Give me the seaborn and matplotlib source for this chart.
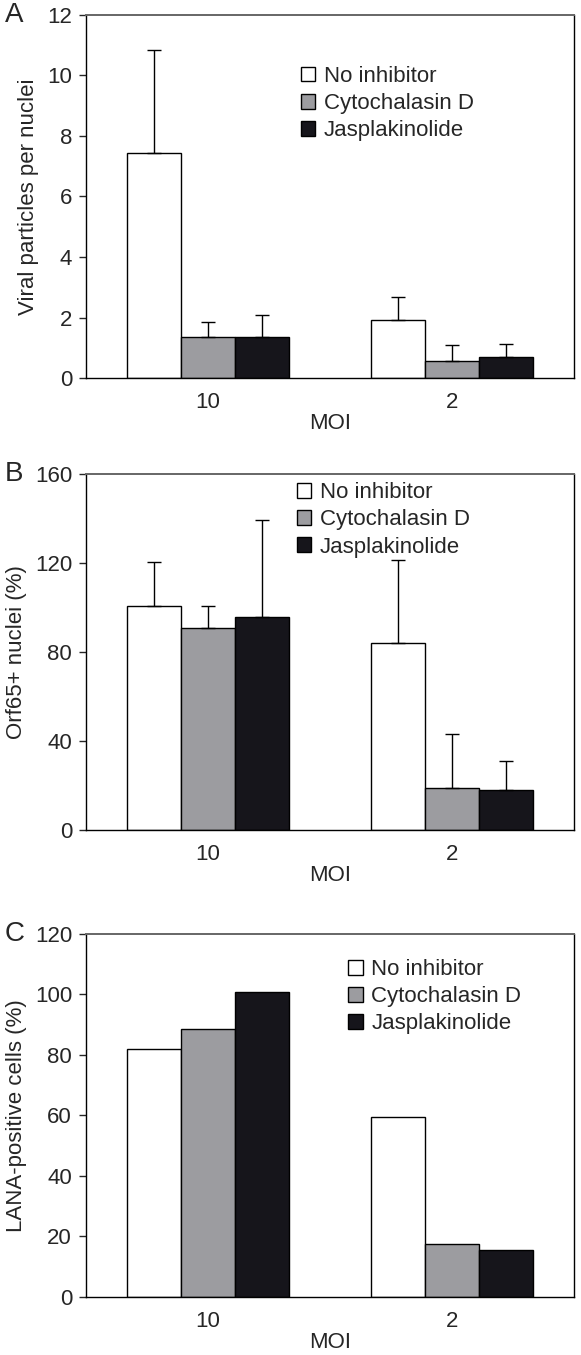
import numpy as np
import pandas as pd
import matplotlib
matplotlib.use("Agg")
import matplotlib.pyplot as plt
import seaborn as sns

# ==========================================
# DATA
# ==========================================

moi = ["10", "2"]
treatments = ["No inhibitor", "Cytochalasin D", "Jasplakinolide"]

# panel A - viral particles per nuclei (mean, upper error)
a_no_inh = [7.45, 1.92]
a_cyto = [1.35, 0.57]
a_jasp = [1.35, 0.70]
a_no_inh_err = [3.40, 0.76]
a_cyto_err = [0.50, 0.53]
a_jasp_err = [0.72, 0.44]

# panel B - Orf65+ nuclei (%)
b_no_inh = [100.8, 84.0]
b_cyto = [91.0, 18.8]
b_jasp = [96.0, 18.0]
b_no_inh_err = [19.8, 37.5]
b_cyto_err = [9.8, 24.2]
b_jasp_err = [43.4, 13.0]

# panel C - LANA-positive cells (%)
c_no_inh = [81.8, 59.3]
c_cyto = [88.5, 17.4]
c_jasp = [100.8, 15.5]

colors = ["#ffffff", "#9c9ca0", "#16151b"]

# ==========================================
# STYLE
# ==========================================

sns.set_style("ticks")
plt.rcParams["font.family"] = ["Liberation Sans", "DejaVu Sans"]
plt.rcParams["font.size"] = 16


def make_df(vals):
    rows = []
    for t, v in zip(treatments, vals):
        for m, x in zip(moi, v):
            rows.append({"MOI": m, "Treatment": t, "value": x})
    return pd.DataFrame(rows)


def draw_panel(ax, vals, errs, ylim, yticks, ylabel, legend_anchor):
    df = make_df(vals)
    sns.barplot(data=df, x="MOI", y="value", hue="Treatment",
                order=moi, hue_order=treatments, palette=colors,
                width=0.66, gap=0, errorbar=None, edgecolor="black",
                linewidth=1.0, saturation=1, ax=ax)

    if errs is not None:
        for cont, err in zip(ax.containers, errs):
            for bar, e in zip(cont, err):
                xc = bar.get_x() + bar.get_width() / 2
                h = bar.get_height()
                ax.errorbar(xc, h, yerr=[[0], [e]], fmt="none",
                            ecolor="black", elinewidth=1.0, capsize=5,
                            capthick=1.0, zorder=1)

    ax.set_xlim(-0.5, 1.5)
    ax.set_ylim(*ylim)
    ax.set_yticks(yticks)
    ax.set_ylabel(ylabel, fontsize=16, labelpad=6)
    ax.set_xlabel("MOI", fontsize=16, labelpad=0)
    ax.tick_params(axis="x", length=0, pad=10, labelsize=16)
    ax.tick_params(axis="y", length=5, width=1, direction="out",
                   pad=5, labelsize=16)
    for s in ["left", "right", "bottom"]:
        ax.spines[s].set_visible(True)
        ax.spines[s].set_color("black")
        ax.spines[s].set_linewidth(1.0)
    ax.spines["top"].set_visible(True)
    ax.spines["top"].set_color("#666666")
    ax.spines["top"].set_linewidth(1.4)

    handles, labels = ax.get_legend_handles_labels()
    ax.legend(handles, labels, loc="upper left", bbox_to_anchor=legend_anchor,
              frameon=False, fontsize=16, handlelength=0.65,
              handleheight=0.65, handletextpad=0.4, labelspacing=0.28,
              borderpad=0, borderaxespad=0)


# ==========================================
# FIGURE
# ==========================================

fig = plt.figure(figsize=(5.81, 13.55), dpi=100)

ax_a = fig.add_axes([0.148, 0.721, 0.840, 0.268])
ax_b = fig.add_axes([0.148, 0.3875, 0.840, 0.2625])
ax_c = fig.add_axes([0.148, 0.043, 0.840, 0.268])

draw_panel(ax_a, [a_no_inh, a_cyto, a_jasp],
           [a_no_inh_err, a_cyto_err, a_jasp_err],
           (0, 12), [0, 2, 4, 6, 8, 10, 12],
           "Viral particles per nuclei", (0.44, 0.86))

draw_panel(ax_b, [b_no_inh, b_cyto, b_jasp],
           [b_no_inh_err, b_cyto_err, b_jasp_err],
           (0, 160), [0, 40, 80, 120, 160],
           "Orf65+ nuclei (%)", (0.432, 0.978))

draw_panel(ax_c, [c_no_inh, c_cyto, c_jasp], None,
           (0, 120), [0, 20, 40, 60, 80, 100, 120],
           "LANA-positive cells (%)", (0.537, 0.93))

fig.text(0.008, 1 - 15 / 1355, "A", fontsize=20, va="center", ha="left")
fig.text(0.008, 1 - 474 / 1355, "B", fontsize=20, va="center", ha="left")
fig.text(0.008, 1 - 934 / 1355, "C", fontsize=20, va="center", ha="left")

fig.savefig("out.png", dpi=100)
plt.close()
